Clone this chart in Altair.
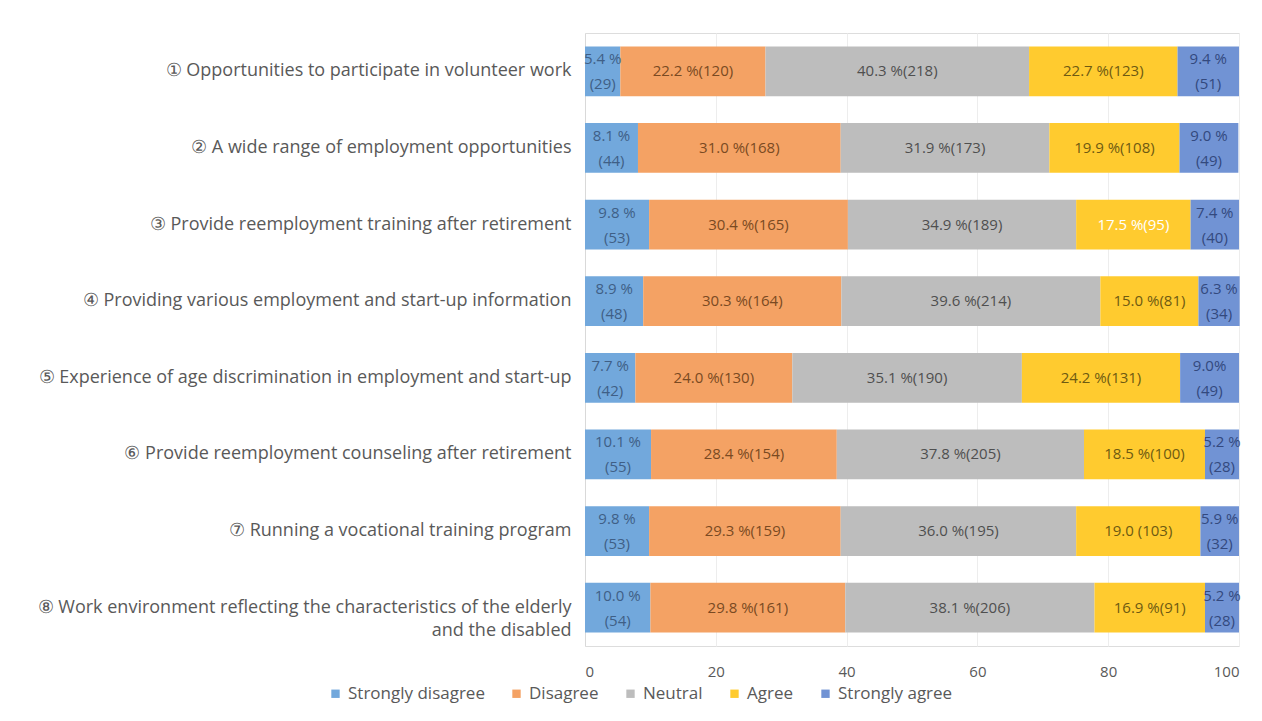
import altair as alt
import pandas as pd

items = [
    "① Opportunities to participate in volunteer work",
    "② A wide range of employment opportunities",
    "③ Provide reemployment training after retirement",
    "④ Providing various employment and start-up information",
    "⑤ Experience of age discrimination in employment and start-up",
    "⑥ Provide reemployment counseling after retirement",
    "⑦ Running a vocational training program",
    "⑧ Work environment reflecting the characteristics of the elderly|and the disabled",
]
responses = ["Strongly disagree", "Disagree", "Neutral", "Agree", "Strongly agree"]
colors = ["#72A8DC", "#F4A264", "#BDBDBD", "#FFCB2F", "#7193D4"]
text_colors = ["#3F5F86", "#7A4A22", "#4F4F4F", "#6E5A12", "#33497E"]

pct = [
    [5.4, 22.2, 40.3, 22.7, 9.4],
    [8.1, 31.0, 31.9, 19.9, 9.0],
    [9.8, 30.4, 34.9, 17.5, 7.4],
    [8.9, 30.3, 39.6, 15.0, 6.3],
    [7.7, 24.0, 35.1, 24.2, 9.0],
    [10.1, 28.4, 37.8, 18.5, 5.2],
    [9.8, 29.3, 36.0, 19.0, 5.9],
    [10.0, 29.8, 38.1, 16.9, 5.2],
]
counts = [
    [29, 120, 218, 123, 51],
    [44, 168, 173, 108, 49],
    [53, 165, 189, 95, 40],
    [48, 164, 214, 81, 34],
    [42, 130, 190, 131, 49],
    [55, 154, 205, 100, 28],
    [53, 159, 195, 103, 32],
    [54, 161, 206, 91, 28],
]
# label texts as printed in the source chart
labels = [
    ["5.4 %\n(29)", "22.2 %(120)", "40.3 %(218)", "22.7 %(123)", "9.4 %\n(51)"],
    ["8.1 %\n(44)", "31.0 %(168)", "31.9 %(173)", "19.9 %(108)", "9.0 %\n(49)"],
    ["9.8 %\n(53)", "30.4 %(165)", "34.9 %(189)", "17.5 %(95)", "7.4 %\n(40)"],
    ["8.9 %\n(48)", "30.3 %(164)", "39.6 %(214)", "15.0 %(81)", "6.3 %\n(34)"],
    ["7.7 %\n(42)", "24.0 %(130)", "35.1 %(190)", "24.2 %(131)", "9.0%\n(49)"],
    ["10.1 %\n(55)", "28.4 %(154)", "37.8 %(205)", "18.5 %(100)", "5.2 %\n(28)"],
    ["9.8 %\n(53)", "29.3 %(159)", "36.0 %(195)", "19.0 (103)", "5.9 %\n(32)"],
    ["10.0 %\n(54)", "29.8 %(161)", "38.1 %(206)", "16.9 %(91)", "5.2 %\n(28)"],
]

rows = []
for i, item in enumerate(items):
    start = 0.0
    for j, resp in enumerate(responses):
        v = pct[i][j]
        tc = text_colors[j]
        if i == 2 and j == 3:
            tc = "#FFFFFF"
        rows.append({
            "item": item, "response": resp, "order": j,
            "start": start, "end": start + v, "mid": start + v / 2,
            "pct": v, "count": counts[i][j], "label": labels[i][j], "tcolor": tc,
            "multi": "\n" in labels[i][j],
        })
        start += v
df = pd.DataFrame(rows)

FONT = "Open Sans"

y_enc = alt.Y("item:N", sort=items, title=None,
              scale=alt.Scale(paddingInner=0.35, paddingOuter=0.175),
              axis=alt.Axis(labelExpr="split(datum.label, '|')", labelFontSize=18,
                            labelColor="#595959", labelFont=FONT, labelPadding=14,
                            ticks=False, domain=True, domainColor="#D9D9D9",
                            labelLimit=700, labelLineHeight=23))

bars = alt.Chart(df).mark_bar().encode(
    x=alt.X("start:Q", scale=alt.Scale(domain=[0, 100], nice=False), title=None,
            axis=alt.Axis(values=[0, 20, 40, 60, 80, 100], labelFontSize=15,
                          labelColor="#595959", labelFont=FONT, ticks=False,
                          domain=False, grid=True, gridColor="#EDEDED",
                          labelPadding=18)),
    x2="end:Q",
    y=y_enc,
    color=alt.Color("response:N", sort=responses,
                    scale=alt.Scale(domain=responses, range=colors),
                    legend=alt.Legend(title=None, orient="none", direction="horizontal",
                                      legendX=-258, legendY=652, symbolType="square",
                                      symbolSize=70, labelFontSize=17, labelColor="#595959",
                                      labelFont=FONT, columnPadding=23, symbolStrokeWidth=0,
                                      labelLimit=300)),
    order=alt.Order("order:Q"),
)

text_single = alt.Chart(df).transform_filter("!datum.multi").mark_text(
    fontSize=15, font=FONT, align="center", baseline="middle").encode(
    x=alt.X("mid:Q"),
    y=alt.Y("item:N", sort=items),
    text="label:N",
    color=alt.Color("tcolor:N", scale=None),
)

text_multi = alt.Chart(df).transform_filter("datum.multi").mark_text(
    fontSize=15, font=FONT, lineBreak="\n", align="center", baseline="middle",
    lineHeight=25, dy=-12).encode(
    x=alt.X("mid:Q"),
    y=alt.Y("item:N", sort=items),
    text="label:N",
    color=alt.Color("tcolor:N", scale=None),
)

chart = alt.layer(bars, text_single, text_multi).properties(
    width=654, height=613, autosize="none",
    padding={"left": 585, "top": 33, "right": 23, "bottom": 75},
).configure_view(stroke=None).configure(background="white")

chart.save("out.html", embed_options={"renderer": "svg", "actions": False})
